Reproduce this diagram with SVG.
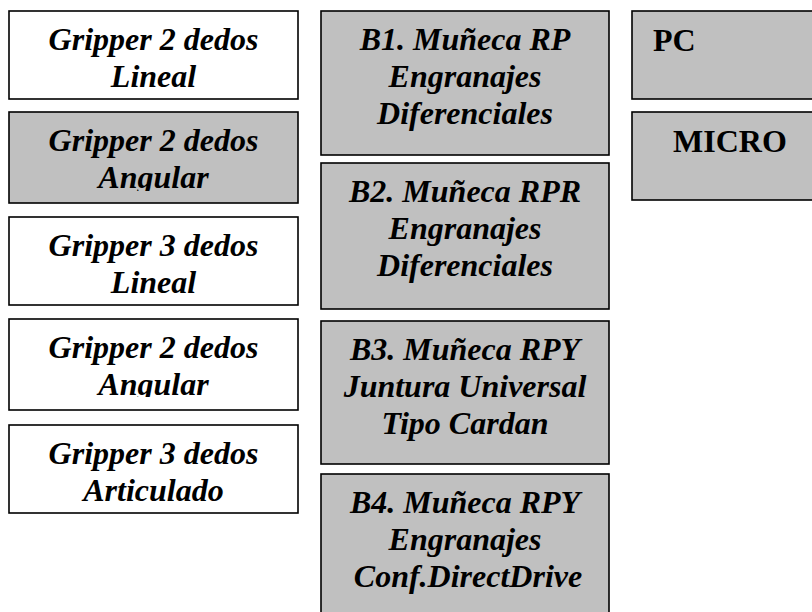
<svg xmlns="http://www.w3.org/2000/svg" width="812" height="612" viewBox="0 0 812 612">
<style>
.box{stroke:#000;stroke-width:1.6}
.w{fill:#fff}
.g{fill:#c0c0c0}
.t{font-family:"Liberation Serif","Times New Roman",serif;font-size:32px;font-weight:bold;font-style:italic;fill:#000;text-anchor:middle}
.u{font-family:"Liberation Serif","Times New Roman",serif;font-size:32px;font-weight:bold;fill:#000}
</style>
<defs>
<clipPath id="c2" clipPathUnits="userSpaceOnUse"><rect x="9" y="112" width="289" height="79"/></clipPath>
<clipPath id="c4" clipPathUnits="userSpaceOnUse"><rect x="9" y="319" width="289" height="78"/></clipPath>
</defs>
<rect width="812" height="612" fill="#fff"/>
<g id="g1"><rect class="box w" x="9" y="11" width="289" height="88"/><text class="t" x="153.5" y="50">Gripper 2 dedos</text><text class="t" x="153.5" y="87">Lineal</text></g>
<g id="g2"><rect class="box g" x="9" y="112" width="289" height="91"/><g clip-path="url(#c2)"><text class="t" x="153.5" y="151">Gripper 2 dedos</text><text class="t" x="153.5" y="188">Angular</text></g></g>
<g id="g3"><rect class="box w" x="9" y="217" width="289" height="88"/><text class="t" x="153.5" y="256">Gripper 3 dedos</text><text class="t" x="153.5" y="293">Lineal</text></g>
<g id="g4"><rect class="box w" x="9" y="319" width="289" height="91"/><g clip-path="url(#c4)"><text class="t" x="153.5" y="358">Gripper 2 dedos</text><text class="t" x="153.5" y="395">Angular</text></g></g>
<g id="g5"><rect class="box w" x="9" y="425" width="289" height="88"/><text class="t" x="153.5" y="464">Gripper 3 dedos</text><text class="t" x="153.5" y="501">Articulado</text></g>
<g id="b1"><rect class="box g" x="321" y="11" width="288" height="144"/><text class="t" x="465" y="50">B1. Muñeca RP</text><text class="t" x="465" y="87">Engranajes</text><text class="t" x="465" y="124">Diferenciales</text></g>
<g id="b2"><rect class="box g" x="321" y="163" width="288" height="146"/><text class="t" x="465" y="202">B2. Muñeca RPR</text><text class="t" x="465" y="239">Engranajes</text><text class="t" x="465" y="276">Diferenciales</text></g>
<g id="b3"><rect class="box g" x="321" y="321" width="288" height="143"/><text class="t" x="465" y="360">B3. Muñeca RPY</text><text class="t" x="465" y="397">Juntura Universal</text><text class="t" x="465" y="434">Tipo Cardan</text></g>
<g id="b4"><rect class="box g" x="321" y="474" width="288" height="150"/><text class="t" x="465" y="513">B4. Muñeca RPY</text><text class="t" x="465" y="550">Engranajes</text><text class="t" x="468" y="587">Conf.DirectDrive</text></g>
<g id="pc"><rect class="box g" x="632" y="11" width="200" height="88"/><text class="u" x="653" y="51">PC</text></g>
<g id="micro"><rect class="box g" x="632" y="112" width="200" height="88"/><text class="u" x="673" y="152">MICRO</text></g>
<g id="connectors"/>
</svg>
